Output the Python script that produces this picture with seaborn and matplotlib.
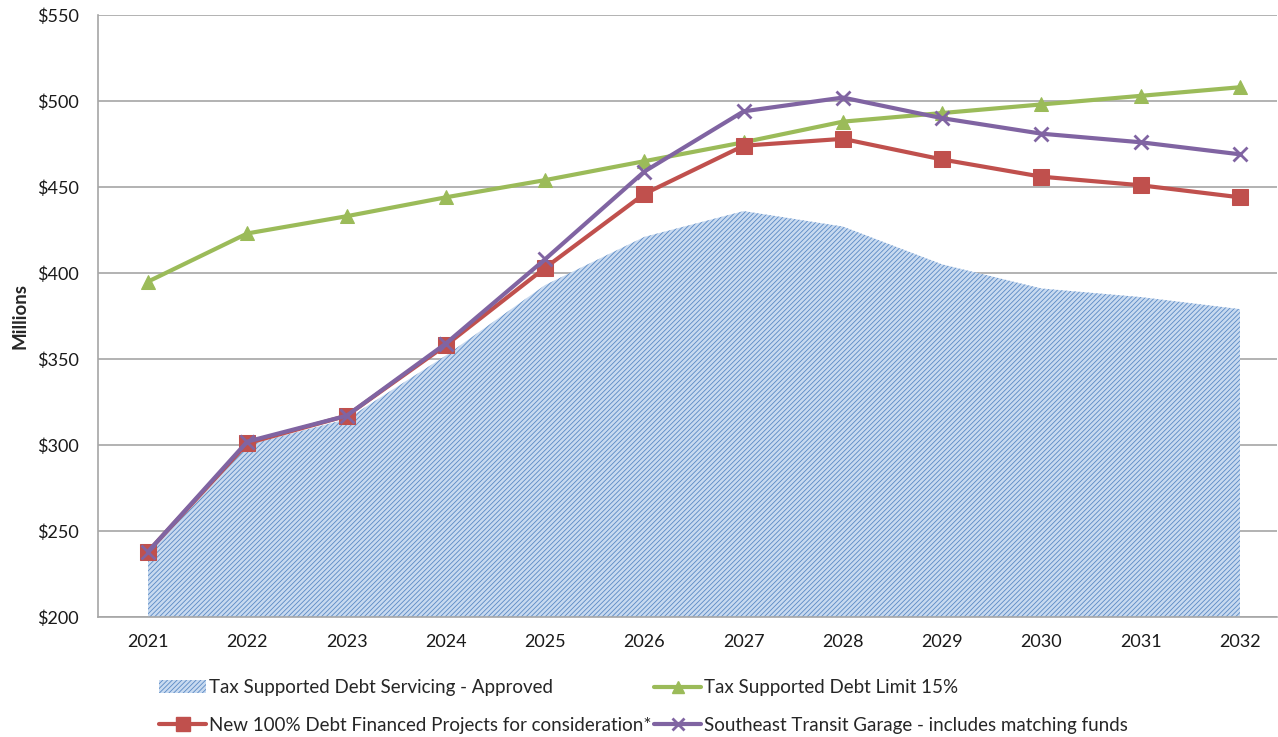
import matplotlib
matplotlib.use("Agg")
import matplotlib.pyplot as plt
import seaborn as sns
import numpy as np
import pandas as pd
from matplotlib.ticker import FuncFormatter
from matplotlib.patches import Patch
from matplotlib.lines import Line2D

years = [2021, 2022, 2023, 2024, 2025, 2026, 2027, 2028, 2029, 2030, 2031, 2032]
approved = [238, 300, 315, 352, 393, 421, 436, 427, 405, 391, 386, 379]
debt_limit = [395, 423, 433, 444, 454, 465, 476, 488, 493, 498, 503, 508]
new_projects = [238, 301, 317, 358, 403, 446, 474, 478, 466, 456, 451, 444]
transit_garage = [238, 302, 317, 359, 408, 459, 494, 502, 490, 481, 476, 469]

labels = ["Tax Supported Debt Servicing - Approved",
          "Tax Supported Debt Limit 15%",
          "New 100% Debt Financed Projects for consideration*",
          "Southeast Transit Garage - includes matching funds"]

sns.set_style("white")
plt.rcParams['font.family'] = ['Lato', 'DejaVu Sans']
plt.rcParams['hatch.linewidth'] = 0.6

df = pd.DataFrame({"year": years, "approved": approved, "limit": debt_limit,
                   "new": new_projects, "garage": transit_garage})

fig = plt.figure(figsize=(12.78, 7.37), dpi=100)
ax = fig.add_axes([98/1278, 1 - 617/737, (1277-98)/1278, 602/737])

blue_face = "#c8daf0"
blue_hatch = "#5a89c4"
green = "#9bbb59"
red = "#c0504d"
purple = "#8064a2"

ax.fill_between(df["year"], 200, df["approved"], facecolor=blue_face,
                edgecolor=blue_hatch, hatch="///////", linewidth=0, zorder=2)

sns.lineplot(data=df, x="year", y="limit", ax=ax, color=green, linewidth=3,
             marker="^", markersize=9.5, markeredgecolor=green, zorder=3)
sns.lineplot(data=df, x="year", y="new", ax=ax, color=red, linewidth=3,
             marker="s", markersize=11, markeredgecolor=red, zorder=4)
sns.lineplot(data=df, x="year", y="garage", ax=ax, color=purple, linewidth=3,
             marker="x", markersize=10, markeredgewidth=2, markeredgecolor=purple, zorder=5)

ax.set_ylim(200, 550)
ax.set_xlim(2021 - 0.504, 2032 + 0.373)
ax.set_yticks(np.arange(200, 551, 50))
ax.set_xticks(years)
ax.yaxis.set_major_formatter(FuncFormatter(lambda v, p: f"${v:.0f}"))
ax.grid(axis="y", color="#a6a6a6", linewidth=1.2)
ax.grid(axis="x", visible=False)
ax.set_axisbelow(True)
for s in ["top", "right"]:
    ax.spines[s].set_visible(False)
for s in ["left", "bottom"]:
    ax.spines[s].set_color("#a6a6a6")
    ax.spines[s].set_linewidth(1.2)
ax.tick_params(axis="both", length=0, labelsize=13, colors="#1a1a1a")
ax.tick_params(axis="y", pad=14)
ax.tick_params(axis="x", pad=12)
ax.set_xlabel("")
ax.set_ylabel("Millions", fontsize=13.5, fontweight="bold")
ax.yaxis.set_label_coords(-0.059, 0.5)

handles = [
    Patch(facecolor=blue_face, edgecolor=blue_hatch, hatch="///////", linewidth=0),
    Line2D([], [], color=red, linewidth=3, marker="s", markersize=10, markeredgecolor=red),
    Line2D([], [], color=green, linewidth=3, marker="^", markersize=9, markeredgecolor=green),
    Line2D([], [], color=purple, linewidth=3, marker="x", markersize=9, markeredgewidth=2),
]
hlabels = [labels[0], labels[2], labels[1], labels[3]]
fig.legend(handles, hlabels, loc="upper left", bbox_to_anchor=(150/1278, 1 - 670/737),
           ncol=2, frameon=False, fontsize=13.5, handlelength=2.5, handletextpad=0.15,
           columnspacing=0.15, labelspacing=1.08, borderpad=0)

fig.savefig("out.png", dpi=100)
